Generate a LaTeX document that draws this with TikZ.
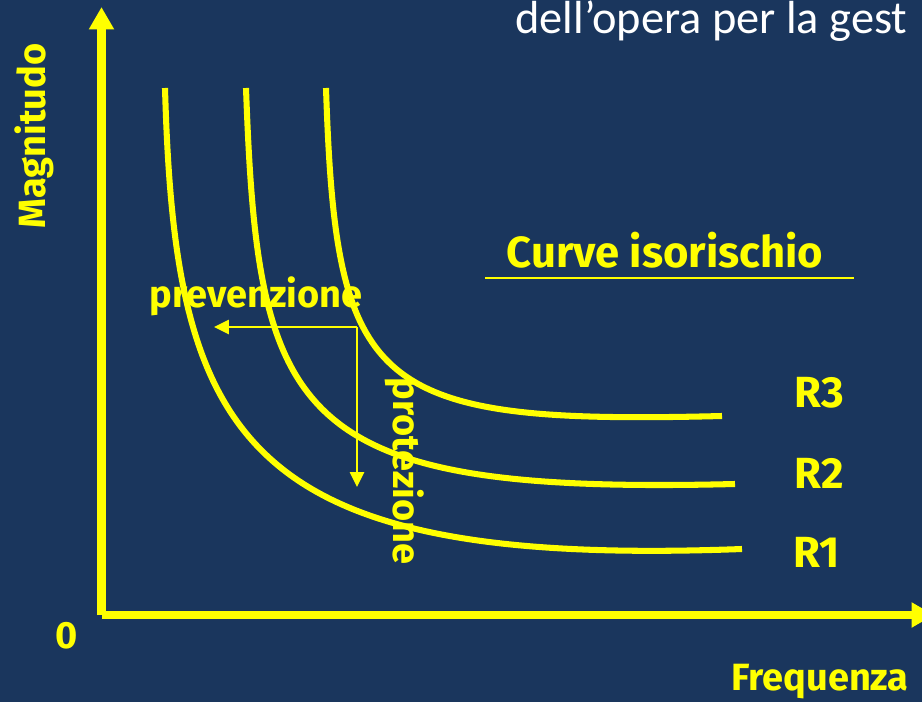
\documentclass[tikz,border=0pt]{standalone}
\usepackage{fontspec}
\setmainfont{Fira Sans}
\newfontfamily\titlefont{Carlito}
\usetikzlibrary{arrows.meta}
\definecolor{slidebg}{HTML}{1A365D}
\definecolor{riskyellow}{HTML}{FFFF00}

\begin{document}
\begin{tikzpicture}[
    x=0.025cm, y=-0.025cm,
    axis/.style={line width=5.7pt, riskyellow, -{Triangle[length=16pt,width=17pt]}},
    isocurve/.style={line width=4.3pt, riskyellow},
    lever/.style={line width=1.2pt, riskyellow, -{Triangle[length=10.5pt,width=10pt]}},
    lab/.style={text=riskyellow, font=\fontsize{27}{30}\selectfont\bfseries, inner sep=0pt},
    biglab/.style={lab, font=\fontsize{31}{33}\selectfont\bfseries}
]
\fill[slidebg] (0,0) rectangle (922,702);
\useasboundingbox (0,0) rectangle (922,702);
\clip (0,0) rectangle (922,702);

% Slide title
\node[anchor=base west, inner sep=0pt, text=white, font=\titlefont\fontsize{33}{38}\selectfont] (title) at (515,34) {dell’opera per la gest};

% Axes
\coordinate (origin) at (101.5,615);
\coordinate (ytop) at (101.5,7);
\coordinate (xend) at (934,615);
\draw[axis] (origin) -- (ytop);
\draw[axis] (origin) -- (xend);

\node[lab, rotate=90] (maglab) at (34,136) {Magnitudo};
\node[lab] (zero) at (67,636) {0};
\node[lab, anchor=base] (freqlab) at (820,690) {Frequenza};

% Iso-risk curves
\coordinate (c1top) at (165,88);  \coordinate (c1end) at (742,549);
\coordinate (c2top) at (246,88);  \coordinate (c2end) at (735,484);
\coordinate (c3top) at (326,88);  \coordinate (c3end) at (722,416);
\draw[isocurve] (c1top) .. controls (175,440) and (240,568) .. (c1end);
\draw[isocurve] (c2top) .. controls (258,420) and (290,495) .. (c2end);
\draw[isocurve] (c3top) .. controls (336,390) and (370,425) .. (c3end);

\node[biglab] (r3) at (819,393) {R3};
\node[biglab] (r2) at (819,473) {R2};
\node[biglab] (r1) at (817,552) {R1};

% Legend
\node[biglab] (legend) at (665,250) {Curve isorischio};
\coordinate (ulstart) at (485,278);
\coordinate (ulend) at (854,278);
\draw[riskyellow, line width=1.9pt] (ulstart) -- (ulend);

% Prevention and protection
\coordinate (pivot) at (357,327);
\coordinate (prevtip) at (214,327);
\coordinate (prottip) at (357,487);
\draw[lever] (pivot) -- (prevtip);
\draw[lever] (pivot) -- (prottip);
\node[lab, anchor=base] (prevlab) at (256,307) {prevenzione};
\node[lab, anchor=base, rotate=-90] (protlab) at (393,471) {protezione};

\end{tikzpicture}
\end{document}
